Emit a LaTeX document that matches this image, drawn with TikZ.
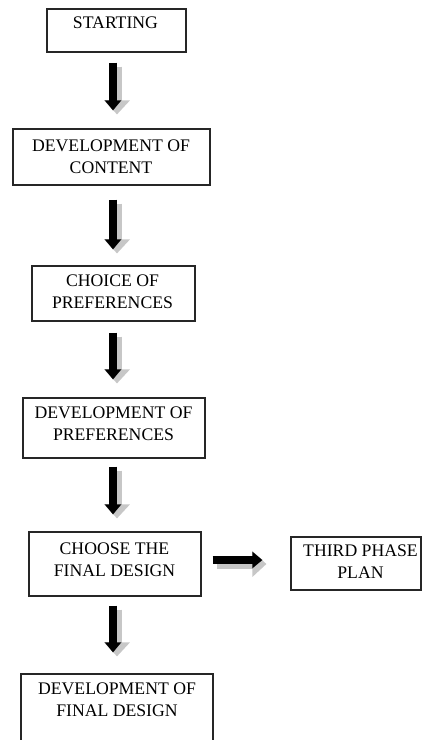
\documentclass[tikz,border=0pt]{standalone}
\usepackage{fontspec}
\setmainfont{Liberation Serif}
\usetikzlibrary{arrows.meta}

\begin{document}
\begin{tikzpicture}[x=1pt,y=-1pt,
    stage/.style 2 args={draw=black!85, line width=1.2pt, inner sep=0pt,
        minimum width=#1pt, minimum height=#2pt},
    caption/.style={anchor=north, align=center, inner sep=0pt,
        font=\fontsize{17.7}{22}\selectfont},
    blockarrow/.style={black, line width=8pt,
        -{Triangle[width=16pt,length=10pt]}},
    ghostarrow/.style={black!22, line width=9pt,
        -{Triangle[width=25pt,length=14pt]},
        transform canvas={shift={(4pt,-4pt)}}}]

    % Page
    \useasboundingbox (0,0) rectangle (422,740);
    \clip (0,0) rectangle (422,740);
    \fill[white] (0,0) rectangle (422,740);

    % Draw the boxes
    \node[stage={139}{43}] (b1) at (116.5,30.5) {};
    \node[stage={197}{56}] (b2) at (111.5,157) {};
    \node[stage={163}{55}] (b3) at (113.5,293.5) {};
    \node[stage={182}{60}] (b4) at (114,428) {};
    \node[stage={172}{64}] (b5) at (115,564) {};
    \node[stage={130}{53}] (b6) at (356,563.5) {};
    \node[stage={192}{76}] (b7) at (117,712) {};

    % Add the texts
    \node[caption] (t1) at (115.5,17) {STARTING};
    \node[caption] (t2) at (111,140) {DEVELOPMENT OF\\CONTENT};
    \node[caption] (t3) at (112.5,275) {CHOICE OF\\PREFERENCES};
    \node[caption] (t4) at (113.5,407) {DEVELOPMENT OF\\PREFERENCES};
    \node[caption] (t5) at (114.5,543) {CHOOSE THE\\FINAL DESIGN};
    \node[caption] (t6) at (360.5,545) {THIRD PHASE\\PLAN};
    \node[caption] (t7) at (117,683) {DEVELOPMENT OF\\FINAL DESIGN};

    % Connect the boxes
    \coordinate (spine) at (113,0);
    \draw[ghostarrow, shorten <=10pt, shorten >=18pt] (b1.south -| spine) -- (b2.north -| spine);
    \draw[blockarrow, shorten <=10pt, shorten >=18pt] (b1.south -| spine) -- (b2.north -| spine);
    \draw[ghostarrow, shorten <=14pt, shorten >=16pt] (b2.south -| spine) -- (b3.north -| spine);
    \draw[blockarrow, shorten <=14pt, shorten >=16pt] (b2.south -| spine) -- (b3.north -| spine);
    \draw[ghostarrow, shorten <=11pt, shorten >=18pt] (b3.south -| spine) -- (b4.north -| spine);
    \draw[blockarrow, shorten <=11pt, shorten >=18pt] (b3.south -| spine) -- (b4.north -| spine);
    \draw[ghostarrow, shorten <=8pt, shorten >=17pt] (b4.south -| spine) -- (b5.north -| spine);
    \draw[blockarrow, shorten <=8pt, shorten >=17pt] (b4.south -| spine) -- (b5.north -| spine);
    \draw[ghostarrow, shorten <=9pt, shorten >=21pt] (b5.south -| spine) -- (b7.north -| spine);
    \draw[blockarrow, shorten <=9pt, shorten >=21pt] (b5.south -| spine) -- (b7.north -| spine);
    \draw[ghostarrow, shorten <=11pt, shorten >=28pt] ([yshift=4pt]b5.east) -- ([yshift=4pt]b5.east -| b6.west);
    \draw[blockarrow, shorten <=11pt, shorten >=28pt] ([yshift=4pt]b5.east) -- ([yshift=4pt]b5.east -| b6.west);
\end{tikzpicture}
\end{document}
